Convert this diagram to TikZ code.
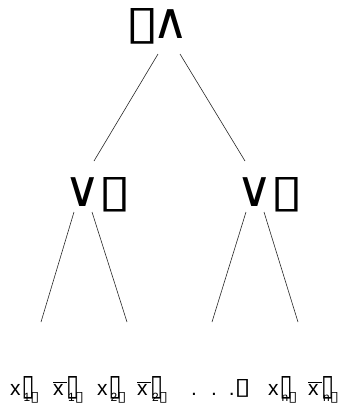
\documentclass[tikz,border=0pt]{standalone}
\usepackage{fontspec}
\setmainfont{Liberation Sans}
\newfontfamily\symfont{DejaVu Sans}
\newfontfamily\symbold{DejaVu Sans Bold}
\usetikzlibrary{positioning}
% missing-glyph box, sized by hand
\newcommand{\tofu}[2]{\resizebox{#1}{#2}{\symbold ▯}}
\newcommand{\thintofu}[2]{\resizebox{#1}{#2}{\symfont ▯}}
\newcommand{\gatesym}[1]{\smash{\fontsize{50}{50}\selectfont\symfont #1}}
\newcommand{\lit}[1]{x\hspace{1bp}\tofu{13bp}{19bp}\kern-11bp\raisebox{-6bp}{\fontsize{12}{12}\selectfont #1\thintofu{9bp}{9bp}}}
\newcommand{\nlit}[1]{$\overline{\hbox{x\,}}$\kern-1bp\tofu{13bp}{19bp}\kern-11bp\raisebox{-6bp}{\fontsize{12}{12}\selectfont #1\thintofu{9bp}{9bp}}}

\begin{document}
\begin{tikzpicture}[
    x=1bp, y=-1bp,
    op/.style={inner sep=0pt, anchor=base, font=\fontsize{40}{40}\selectfont},
    leaf/.style={inner sep=0pt, anchor=base west, font=\fontsize{21}{21}\selectfont},
    edge/.style={line width=0.6pt, black!85}
]
\useasboundingbox (0,0) rectangle (339,403);

% ---- Gates ----
\node[op] (root) at (157,38) {\tofu{34bp}{30bp}\hspace{-7bp}\gatesym{∧}};
\node[op] (orL) at (98,206) {\gatesym{∨}\hspace{-3bp}\tofu{33bp}{29bp}};
\node[op] (orR) at (270,206) {\gatesym{∨}\hspace{-3bp}\tofu{33bp}{29bp}};

% ---- Edge end points ----
\coordinate (rootL) at (158,54);
\coordinate (rootR) at (180,54);
\coordinate (orLtop) at (94,161);
\coordinate (orRtop) at (245,161);
\coordinate (orLa) at (74,212);
\coordinate (orLb) at (92,212);
\coordinate (orRa) at (246,212);
\coordinate (orRb) at (264,212);
\coordinate (leafA) at (41,322);
\coordinate (leafB) at (127,322);
\coordinate (leafC) at (212,322);
\coordinate (leafD) at (298,322);

\draw[edge] (rootL) -- (orLtop);
\draw[edge] (rootR) -- (orRtop);
\draw[edge] (orLa) -- (leafA);
\draw[edge] (orLb) -- (leafB);
\draw[edge] (orRa) -- (leafC);
\draw[edge] (orRb) -- (leafD);

% ---- Literals ----
\node[leaf] (x1) at (10,395) {\lit{1}};
\node[leaf] (nx1) at (53,395) {\nlit{1}};
\node[leaf] (x2) at (97,395) {\lit{2}};
\node[leaf] (nx2) at (137,395) {\nlit{2}};
\node[leaf] (dots) at (191,395) {.\hspace{14bp}.\hspace{12bp}.\hspace{0bp}\raisebox{1bp}{\tofu{16bp}{15bp}}};
\node[leaf] (xn) at (268,395) {\lit{n}};
\node[leaf] (nxn) at (308,395) {\nlit{n}};

\end{tikzpicture}
\end{document}
